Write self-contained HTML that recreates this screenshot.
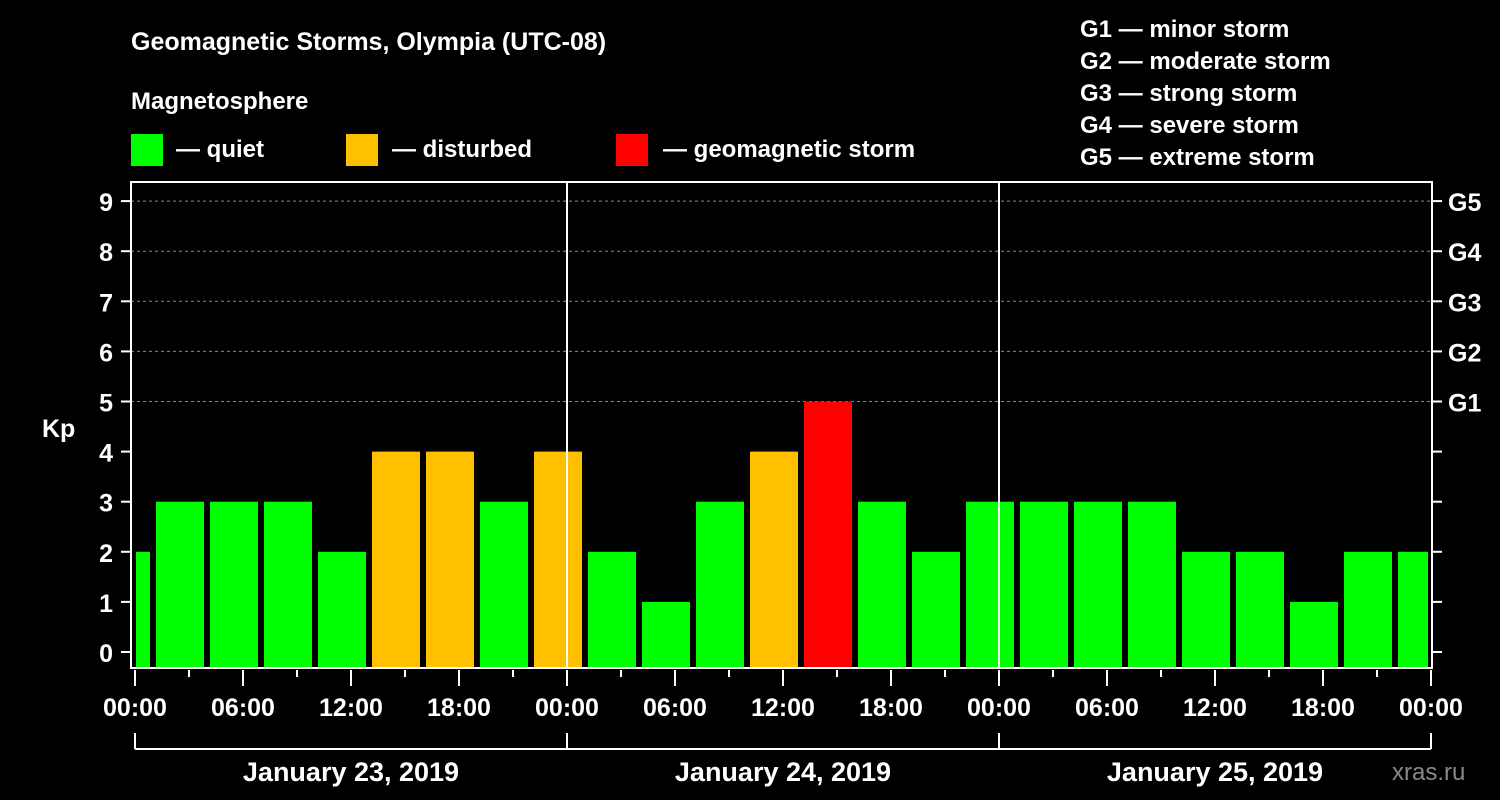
<!DOCTYPE html>
<html><head><meta charset="utf-8"><style>
html,body{margin:0;padding:0;background:#000;}
svg{display:block;font-family:"Liberation Sans",Arial,sans-serif;font-weight:bold;}
</style></head><body>
<svg id="chart" width="1500" height="800" viewBox="0 0 1500 800">
<rect x="0" y="0" width="1500" height="800" fill="#000"/>
<text x="131" y="50" fill="#fff" font-size="25">Geomagnetic Storms, Olympia (UTC-08)</text>
<text x="131" y="109" fill="#fff" font-size="24">Magnetosphere</text>
<g><rect x="131" y="134" width="32" height="32" fill="#00ff00"/><text x="176" y="157" fill="#fff" font-size="24">— quiet</text></g>
<g><rect x="346" y="134" width="32" height="32" fill="#ffc000"/><text x="392" y="157" fill="#fff" font-size="24">— disturbed</text></g>
<g><rect x="616" y="134" width="32" height="32" fill="#ff0000"/><text x="663" y="157" fill="#fff" font-size="24">— geomagnetic storm</text></g>
<g fill="#fff" font-size="24">
<text x="1080" y="37">G1 — minor storm</text>
<text x="1080" y="69">G2 — moderate storm</text>
<text x="1080" y="101">G3 — strong storm</text>
<text x="1080" y="133">G4 — severe storm</text>
<text x="1080" y="165">G5 — extreme storm</text>
</g>
<text x="42" y="437" fill="#fff" font-size="25">Kp</text>
<text x="1392" y="780" fill="#888" font-size="24" font-weight="normal">xras.ru</text>
<g id="grid"></g><g id="bars"></g><g id="axes"></g>
</svg>
<script>
const kpValues=[2,3,3,3,2,4,4,3,4,2,1,3,4,5,3,2,3,3,3,3,2,2,1,2,2];
const barStartHours=[-2,1,4,7,10,13,16,19,22,25,28,31,34,37,40,43,46,49,52,55,58,61,64,67,70];
const yTicks=[0,1,2,3,4,5,6,7,8,9];
const gLabels=["G1","G2","G3","G4","G5"];
const gLevels=[5,6,7,8,9];
const hourLabels=["00:00","06:00","12:00","18:00","00:00","06:00","12:00","18:00","00:00","06:00","12:00","18:00","00:00"];
const dayLabels=["January 23, 2019","January 24, 2019","January 25, 2019"];
const NS="http://www.w3.org/2000/svg";
const L=131,R=1432,T=182,B=668;
const x=h=>135+18*h;
const y=v=>652-50.1*v;
function el(tag,attrs,parent){const e=document.createElementNS(NS,tag);for(const k in attrs)e.setAttribute(k,attrs[k]);parent.appendChild(e);return e;}
const grid=document.getElementById('grid'),bars=document.getElementById('bars'),axes=document.getElementById('axes');
gLevels.forEach((v,i)=>{
 const g=el('line',{x1:L,x2:R,y1:y(v),y2:y(v),stroke:'#888','stroke-dasharray':'3,3','stroke-width':1},grid);
 
 
 const t=el('text',{x:1448,y:y(v)+10,fill:'#fff','font-size':25},axes);t.textContent=gLabels[i];
 
 
});
kpValues.forEach((v,i)=>{
 let x0=x(barStartHours[i])+3,x1=x(barStartHours[i]+3)-3;
 x0=Math.max(x0,136);x1=Math.min(x1,1428);
 const c=v>=5?'#ff0000':(v>=4?'#ffc000':'#00ff00');
 const r=el('rect',{x:x0,y:y(v),width:x1-x0,height:667-y(v),fill:c},bars);
 
 
});
[24,48].forEach(h=>{const l=el('line',{x1:x(h),x2:x(h),y1:T,y2:B,stroke:'#fff','stroke-width':2},axes);
 
 });
const fr=el('rect',{x:L,y:T,width:R-L,height:B-T,fill:'none',stroke:'#fff','stroke-width':2},axes);


yTicks.forEach(v=>{
 el('line',{x1:121,x2:L,y1:y(v),y2:y(v),stroke:'#fff','stroke-width':2},axes);
 el('line',{x1:R,x2:R+10,y1:y(v),y2:y(v),stroke:'#fff','stroke-width':2},axes);
 const t=el('text',{x:113,y:y(v)+10,fill:'#fff','font-size':25,'text-anchor':'end'},axes);t.textContent=v;
 
 
});
for(let h=0;h<=72;h+=3){el('line',{x1:x(h),x2:x(h),y1:670,y2:h%6==0?686:677,stroke:'#fff','stroke-width':2},axes);}
hourLabels.forEach((s,i)=>{const t=el('text',{x:x(i*6),y:716,fill:'#fff','font-size':25,'text-anchor':'middle'},axes);t.textContent=s;
 
 });
el('line',{x1:x(0),x2:x(72),y1:749,y2:749,stroke:'#fff','stroke-width':2},axes);
[0,24,48,72].forEach(h=>el('line',{x1:x(h),x2:x(h),y1:733,y2:749,stroke:'#fff','stroke-width':2},axes));
dayLabels.forEach((s,i)=>{const t=el('text',{x:x(i*24+12),y:781,fill:'#fff','font-size':27,'text-anchor':'middle'},axes);t.textContent=s;
 
 });
</script>
</body></html>
